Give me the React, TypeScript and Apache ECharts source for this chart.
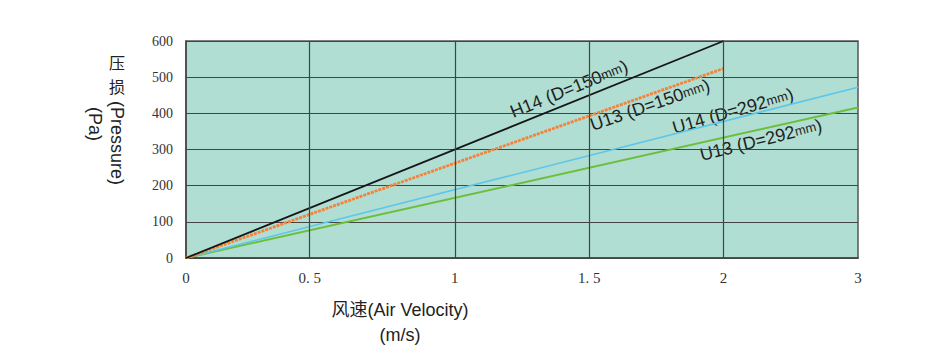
import React, { useEffect, useRef } from 'react';
import * as echarts from 'echarts';

// X axis: tick positions (as drawn on the original, linear in pixels) and their printed labels
const xTickValues = [0, 0.46, 1, 1.5, 2, 2.5];
const xTickLabels = ['0', '0. 5', '1', '1. 5', '2', '3'];
// Y axis range
const yMin = 0;
const yMax = 600;
const yInterval = 100;

// Series (x in axis units, y in Pa)
const h14_150 = [[0, 0], [2, 600]];
const u13_150 = [[0, 0], [2, 524]];
const u14_292 = [[0, 0], [2.5, 472]];
const u13_292 = [[0, 0], [2.5, 416]];

const seriesNames = ['H14 (D=150mm)', 'U13 (D=150mm)', 'U14 (D=292mm)', 'U13 (D=292mm)'];

const labelFont = '"Liberation Sans Narrow", "Liberation Sans", Arial, sans-serif';

function lineLabel(text: string, x: number, y: number, deg: number) {
  const m = text.match(/^(.*?)(mm)(\))$/);
  const rich = m ? `{a|${m[1]}}{b|mm}{a|)}` : `{a|${text}}`;
  return {
    type: 'text',
    x,
    y,
    rotation: (deg * Math.PI) / 180,
    silent: true,
    style: {
      text: rich,
      align: 'center',
      verticalAlign: 'middle',
      rich: {
        a: { fontSize: 18, fontFamily: labelFont, fill: '#1e1e1e' },
        b: { fontSize: 13, fontFamily: labelFont, fill: '#1e1e1e' },
      },
    },
  };
}

export default function App() {
  const ref = useRef<HTMLDivElement>(null);
  useEffect(() => {
    if (!ref.current) return;
    const chart = echarts.init(ref.current, null, { renderer: 'svg' });
    const gridColor = '#444444';
    chart.setOption({
      animation: false,
      backgroundColor: '#ffffff',
      grid: {
        left: 186,
        right: 72,
        top: 41,
        bottom: 102,
        show: true,
        backgroundColor: '#b1ded2',
        borderColor: '#555555',
        borderWidth: 1.5,
      },
      xAxis: {
        type: 'value',
        min: 0,
        max: 2.5,
        axisLine: { show: true, onZero: false, lineStyle: { color: '#444', width: 1.5 } },
        axisTick: { show: false, customValues: xTickValues },
        splitLine: { show: false },
        axisLabel: {
          customValues: xTickValues,
          margin: 12,
          color: '#333',
          fontSize: 15,
          fontFamily: '"Liberation Serif", "DejaVu Serif", serif',
          formatter: (v: number) => {
            const i = xTickValues.findIndex((t) => Math.abs(t - v) < 1e-6);
            return i >= 0 ? xTickLabels[i] : '';
          },
        },
      },
      yAxis: {
        type: 'value',
        min: yMin,
        max: yMax,
        interval: yInterval,
        axisLine: { show: true, lineStyle: { color: '#444', width: 1.5 } },
        axisTick: { show: false },
        splitLine: { show: true, lineStyle: { color: gridColor, width: 1.2 } },
        axisLabel: {
          margin: 13,
          color: '#333',
          fontSize: 14,
          fontFamily: '"Liberation Serif", "DejaVu Serif", serif',
        },
      },
      series: [
        {
          name: 'grid',
          type: 'line',
          data: [],
          silent: true,
          markLine: {
            silent: true,
            symbol: 'none',
            label: { show: false },
            lineStyle: { color: gridColor, width: 1.2, type: 'solid' },
            data: xTickValues.slice(1, 5).map((v) => ({ xAxis: v })),
          },
        },
        {
          name: seriesNames[3],
          type: 'line',
          data: u13_292,
          symbol: 'none',
          lineStyle: { color: '#6cbf3c', width: 2 },
        },
        {
          name: seriesNames[2],
          type: 'line',
          data: u14_292,
          symbol: 'none',
          lineStyle: { color: '#5cc6ea', width: 1.6 },
        },
        {
          name: seriesNames[1],
          type: 'line',
          data: u13_150,
          symbol: 'none',
          lineStyle: { color: '#f5823a', width: 2.8, type: [3, 1] },
        },
        {
          name: seriesNames[0],
          type: 'line',
          data: h14_150,
          symbol: 'none',
          lineStyle: { color: '#161616', width: 1.8 },
        },
      ],
      graphic: [
        lineLabel(seriesNames[0], 569, 89, 22),
        lineLabel(seriesNames[1], 650, 105, 19),
        lineLabel(seriesNames[2], 733, 111, 16),
        lineLabel(seriesNames[3], 761, 140, 14),
        {
          type: 'text', x: 117, y: 62, silent: true,
          style: { text: '压', fontSize: 16, fontFamily: '"Noto Sans CJK SC", sans-serif', fill: '#222', align: 'center', verticalAlign: 'middle' },
        },
        {
          type: 'text', x: 117, y: 86, silent: true,
          style: { text: '损', fontSize: 16, fontFamily: '"Noto Sans CJK SC", sans-serif', fill: '#222', align: 'center', verticalAlign: 'middle' },
        },
        {
          type: 'text', x: 117, y: 143, rotation: -Math.PI / 2, silent: true,
          style: { text: '(Pressure)', fontSize: 18, fontFamily: '"Liberation Sans", Arial, sans-serif', fill: '#222', align: 'center', verticalAlign: 'middle' },
        },
        {
          type: 'text', x: 95, y: 124, rotation: -Math.PI / 2, silent: true,
          style: { text: '(Pa)', fontSize: 18, fontFamily: '"Liberation Sans", Arial, sans-serif', fill: '#222', align: 'center', verticalAlign: 'middle' },
        },
        {
          type: 'text', x: 400, y: 310, silent: true,
          style: { text: '风速(Air Velocity)', fontSize: 18, fontFamily: '"Liberation Sans", "Noto Sans CJK SC", sans-serif', fill: '#222', align: 'center', verticalAlign: 'middle' },
        },
        {
          type: 'text', x: 400, y: 335, silent: true,
          style: { text: '(m/s)', fontSize: 18, fontFamily: '"Liberation Sans", Arial, sans-serif', fill: '#222', align: 'center', verticalAlign: 'middle' },
        },
      ],
    });
    return () => chart.dispose();
  }, []);
  return (
    <div
      ref={ref}
      style={{ position: 'fixed', left: 0, top: 0, width: 930, height: 360 }}
    />
  );
}
